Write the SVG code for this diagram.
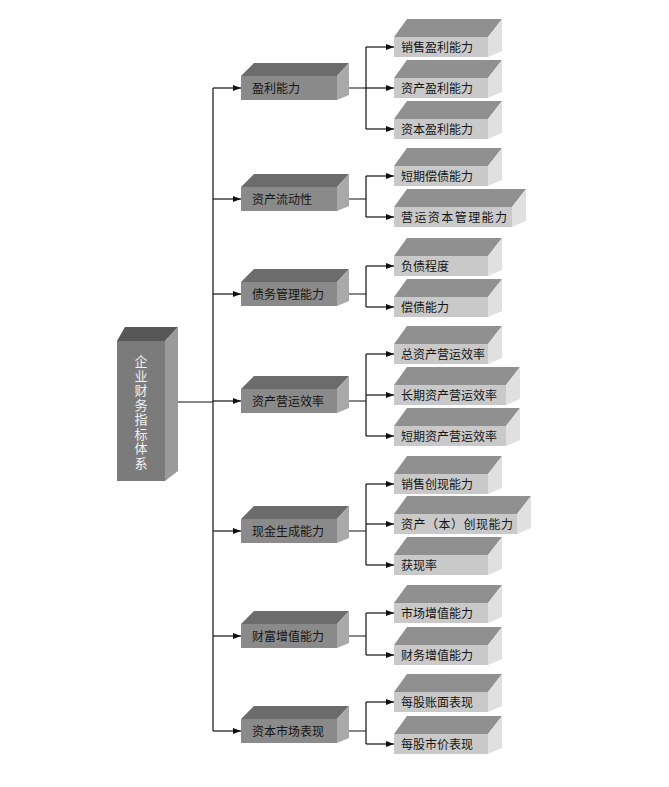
<svg xmlns="http://www.w3.org/2000/svg" width="669" height="787" viewBox="0 0 669 787">
<defs>
<marker id="ah" markerUnits="userSpaceOnUse" markerWidth="8" markerHeight="6" refX="8" refY="3" orient="auto">
<path d="M0,0 L8,3 L0,6 z" fill="#111"/>
</marker>
</defs>
<style>
.c{fill:none;stroke:#111;stroke-width:1.2}
.a{fill:none;stroke:#111;stroke-width:1.2;marker-end:url(#ah)}
.rf{fill:#7b7b7b}.rt{fill:#575757}.rs{fill:#9a9a9a}
.f1{fill:#8a8a8a}.t1{fill:#6c6c6c}.s1{fill:#a9a9a9}
.f2{fill:#c9c9c9}.t2{fill:#909090}.s2{fill:#e0e0e0}
text{font-family:"Noto Sans CJK SC","Noto Sans",sans-serif;font-size:12px;fill:#151515}
.rtx{fill:#f2f2f2;font-size:13px;writing-mode:tb;letter-spacing:1.5px}
</style>
<rect width="669" height="787" fill="#fff"/>
<g id="connectors">
<path class="c" d="M178,402 H213"/>
<path class="c" d="M213,88 V731"/>
<path class="a" d="M213,88 H241"/>
<path class="a" d="M213,199 H241"/>
<path class="a" d="M213,294 H241"/>
<path class="a" d="M213,401 H241"/>
<path class="a" d="M213,531 H241"/>
<path class="a" d="M213,636 H241"/>
<path class="a" d="M213,731 H241"/>
<path class="c" d="M349,88 H366 M366,47 V129"/>
<path class="c" d="M349,199 H366 M366,176 V217"/>
<path class="c" d="M349,294 H366 M366,266 V307"/>
<path class="c" d="M349,401 H366 M366,354 V436"/>
<path class="c" d="M349,531 H366 M366,484 V565"/>
<path class="c" d="M349,636 H366 M366,613 V655"/>
<path class="c" d="M349,731 H366 M366,702 V744"/>
<path class="a" d="M366,47 H394"/>
<path class="a" d="M366,88 H394"/>
<path class="a" d="M366,129 H394"/>
<path class="a" d="M366,176 H394"/>
<path class="a" d="M366,217 H394"/>
<path class="a" d="M366,266 H394"/>
<path class="a" d="M366,307 H394"/>
<path class="a" d="M366,354 H394"/>
<path class="a" d="M366,395 H394"/>
<path class="a" d="M366,436 H394"/>
<path class="a" d="M366,484 H394"/>
<path class="a" d="M366,524 H394"/>
<path class="a" d="M366,565 H394"/>
<path class="a" d="M366,613 H394"/>
<path class="a" d="M366,655 H394"/>
<path class="a" d="M366,702 H394"/>
<path class="a" d="M366,744 H394"/>
</g>
<g id="root">
<polygon class="rt" points="117,341 125,327 178,327 165,341"/>
<polygon class="rs" points="165,341 178,327 178,471 165,481"/>
<rect class="rf" x="117" y="341" width="48" height="140"/>
<text class="rtx" x="141" y="355">企业财务指标体系</text>
</g>
<g id="n1">
<polygon class="t1" points="241,76 254,63 349,63 337,76"/><polygon class="s1" points="337,76 349,63 349,95 337,100"/><rect class="f1" x="241" y="76" width="96" height="24"/><text x="252" y="92.5">盈利能力</text>
</g>
<g id="n2">
<polygon class="t1" points="241,187 254,174 349,174 337,187"/><polygon class="s1" points="337,187 349,174 349,206 337,211"/><rect class="f1" x="241" y="187" width="96" height="24"/><text x="252" y="203.5">资产流动性</text>
</g>
<g id="n3">
<polygon class="t1" points="241,282 254,269 349,269 337,282"/><polygon class="s1" points="337,282 349,269 349,301 337,306"/><rect class="f1" x="241" y="282" width="96" height="24"/><text x="252" y="298.5">债务管理能力</text>
</g>
<g id="n4">
<polygon class="t1" points="241,389 254,376 349,376 337,389"/><polygon class="s1" points="337,389 349,376 349,408 337,413"/><rect class="f1" x="241" y="389" width="96" height="24"/><text x="252" y="405.5">资产营运效率</text>
</g>
<g id="n5">
<polygon class="t1" points="241,519 254,506 349,506 337,519"/><polygon class="s1" points="337,519 349,506 349,538 337,543"/><rect class="f1" x="241" y="519" width="96" height="24"/><text x="252" y="535.5">现金生成能力</text>
</g>
<g id="n6">
<polygon class="t1" points="241,624 254,611 349,611 337,624"/><polygon class="s1" points="337,624 349,611 349,643 337,648"/><rect class="f1" x="241" y="624" width="96" height="24"/><text x="252" y="640.5">财富增值能力</text>
</g>
<g id="n7">
<polygon class="t1" points="241,719 254,706 349,706 337,719"/><polygon class="s1" points="337,719 349,706 349,738 337,743"/><rect class="f1" x="241" y="719" width="96" height="24"/><text x="252" y="735.5">资本市场表现</text>
</g>
<g id="c1"><polygon class="t2" points="394,37 407,19 502,19 488,37"/><polygon class="s2" points="488,37 502,19 502,51 488,57"/><rect class="f2" x="394" y="37" width="94" height="20"/><text x="401" y="51.5">销售盈利能力</text></g>
<g id="c2"><polygon class="t2" points="394,78 407,60 502,60 488,78"/><polygon class="s2" points="488,78 502,60 502,92 488,98"/><rect class="f2" x="394" y="78" width="94" height="20"/><text x="401" y="92.5">资产盈利能力</text></g>
<g id="c3"><polygon class="t2" points="394,119 407,101 502,101 488,119"/><polygon class="s2" points="488,119 502,101 502,133 488,139"/><rect class="f2" x="394" y="119" width="94" height="20"/><text x="401" y="133.5">资本盈利能力</text></g>
<g id="c4"><polygon class="t2" points="394,166 407,148 502,148 488,166"/><polygon class="s2" points="488,166 502,148 502,180 488,186"/><rect class="f2" x="394" y="166" width="94" height="20"/><text x="401" y="180.5">短期偿债能力</text></g>
<g id="c5"><polygon class="t2" points="394,207 407,189 526,189 512,207"/><polygon class="s2" points="512,207 526,189 526,221 512,227"/><rect class="f2" x="394" y="207" width="118" height="20"/><text x="401" y="221.5" textLength="106">营运资本管理能力</text></g>
<g id="c6"><polygon class="t2" points="394,256 407,238 502,238 488,256"/><polygon class="s2" points="488,256 502,238 502,270 488,276"/><rect class="f2" x="394" y="256" width="94" height="20"/><text x="401" y="270.5">负债程度</text></g>
<g id="c7"><polygon class="t2" points="394,297 407,279 502,279 488,297"/><polygon class="s2" points="488,297 502,279 502,311 488,317"/><rect class="f2" x="394" y="297" width="94" height="20"/><text x="401" y="311.5">偿债能力</text></g>
<g id="c8"><polygon class="t2" points="394,344 407,326 502,326 488,344"/><polygon class="s2" points="488,344 502,326 502,358 488,364"/><rect class="f2" x="394" y="344" width="94" height="20"/><text x="401" y="358.5">总资产营运效率</text></g>
<g id="c9"><polygon class="t2" points="394,385 407,367 520,367 506,385"/><polygon class="s2" points="506,385 520,367 520,399 506,405"/><rect class="f2" x="394" y="385" width="112" height="20"/><text x="401" y="399.5">长期资产营运效率</text></g>
<g id="c10"><polygon class="t2" points="394,426 407,408 520,408 506,426"/><polygon class="s2" points="506,426 520,408 520,440 506,446"/><rect class="f2" x="394" y="426" width="112" height="20"/><text x="401" y="440.5">短期资产营运效率</text></g>
<g id="c11"><polygon class="t2" points="394,474 407,456 502,456 488,474"/><polygon class="s2" points="488,474 502,456 502,488 488,494"/><rect class="f2" x="394" y="474" width="94" height="20"/><text x="401" y="488.5">销售创现能力</text></g>
<g id="c12"><polygon class="t2" points="394,514 407,496 531,496 517,514"/><polygon class="s2" points="517,514 531,496 531,528 517,534"/><rect class="f2" x="394" y="514" width="123" height="20"/><text x="401" y="528.5" textLength="112">资产（本）创现能力</text></g>
<g id="c13"><polygon class="t2" points="394,555 407,537 502,537 488,555"/><polygon class="s2" points="488,555 502,537 502,569 488,575"/><rect class="f2" x="394" y="555" width="94" height="20"/><text x="401" y="569.5">获现率</text></g>
<g id="c14"><polygon class="t2" points="394,603 407,585 502,585 488,603"/><polygon class="s2" points="488,603 502,585 502,617 488,623"/><rect class="f2" x="394" y="603" width="94" height="20"/><text x="401" y="617.5">市场增值能力</text></g>
<g id="c15"><polygon class="t2" points="394,645 407,627 502,627 488,645"/><polygon class="s2" points="488,645 502,627 502,659 488,665"/><rect class="f2" x="394" y="645" width="94" height="20"/><text x="401" y="659.5">财务增值能力</text></g>
<g id="c16"><polygon class="t2" points="394,692 407,674 502,674 488,692"/><polygon class="s2" points="488,692 502,674 502,706 488,712"/><rect class="f2" x="394" y="692" width="94" height="20"/><text x="401" y="706.5">每股账面表现</text></g>
<g id="c17"><polygon class="t2" points="394,734 407,716 502,716 488,734"/><polygon class="s2" points="488,734 502,716 502,748 488,754"/><rect class="f2" x="394" y="734" width="94" height="20"/><text x="401" y="748.5">每股市价表现</text></g>
</svg>
